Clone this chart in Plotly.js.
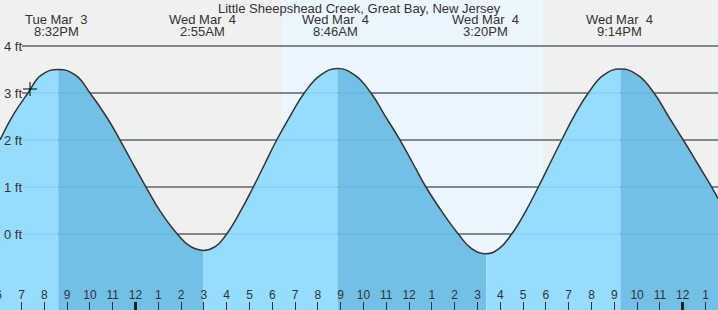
<!DOCTYPE html>
<html><head><meta charset="utf-8">
<script src="https://cdn.plot.ly/plotly-3.0.1.min.js"></script>
<style>html,body{margin:0;padding:0;background:#f0f0f0}#chart{width:718px;height:310px}</style>
</head><body><div id="chart"></div>
<script>
const stationTitle = "Little Sheepshead Creek, Great Bay, New Jersey";
// hours relative to midnight starting Wed Mar 4, tide height in ft
const tideHours = [-5.943, -5.342, -4.715, -4.136, -3.386, -2.632, -1.996, -1.280, -0.680, -0.118, 0.461, 1.088, 1.833, 2.390, 2.974, 3.496, 4.000, 4.601, 5.167, 5.680, 6.193, 6.807, 7.404, 8.114, 8.860, 9.618, 10.329, 10.925, 11.601, 12.171, 12.737, 13.434, 14.158, 14.741, 15.386, 15.947, 16.500, 17.110, 17.667, 18.180, 18.693, 19.259, 19.860, 20.526, 21.268, 22.031, 22.741, 23.377, 24.026, 24.649, 25.272, 25.548];
const tideFeet  = [2.00, 2.55, 3.00, 3.38, 3.50, 3.38, 3.00, 2.50, 2.00, 1.50, 1.00, 0.48, 0.00, -0.26, -0.35, -0.27, 0.00, 0.48, 1.00, 1.50, 2.00, 2.53, 3.00, 3.38, 3.52, 3.38, 3.00, 2.53, 2.00, 1.50, 1.00, 0.48, 0.00, -0.31, -0.42, -0.31, 0.00, 0.48, 1.00, 1.50, 2.00, 2.53, 3.00, 3.38, 3.51, 3.38, 3.00, 2.50, 2.00, 1.50, 1.00, 0.76];
const eventHours = [-3.467, 2.917, 8.767, 15.333, 21.233];
const eventDays = ["Tue Mar\u00a0 3", "Wed Mar\u00a0 4", "Wed Mar\u00a0 4", "Wed Mar\u00a0 4", "Wed Mar\u00a0 4"];
const eventTimes = ["8:32PM", "2:55AM", "8:46AM", "3:20PM", "9:14PM"];
const hourTicks = [-6,-5,-4,-3,-2,-1,0,1,2,3,4,5,6,7,8,9,10,11,12,13,14,15,16,17,18,19,20,21,22,23,24,25];
const hourLabels = ["6","7","8","9","10","11","12","1","2","3","4","5","6","7","8","9","10","11","12","1","2","3","4","5","6","7","8","9","10","11","12","1"];
const midnightTicks = [0, 24];
const footLevels = [0, 1, 2, 3, 4];
const footLabels = ["0 ft", "1 ft", "2 ft", "3 ft", "4 ft"];
const daylight = [6.425, 17.873];
const nowHour = [-4.627];
const nowFeet = [3.085];

const X_RANGE = [-5.943, 25.548];
const Y_RANGE = [-1.617, 4.979];
const LIGHT = "rgb(150,220,253)";
const DARK = "rgb(114,192,229)";
const NIGHT = "#f0f0f0";
const DAY = "#ecf6ff";
const FONT = "Liberation Sans, Arial, sans-serif";
const TXT = "#333";
const SMOOTH = 1.3;

// split into rising/falling segments at turning points
const turns = [0];
for (let i = 1; i < tideFeet.length - 1; i++) {
  if ((tideFeet[i] - tideFeet[i-1]) * (tideFeet[i+1] - tideFeet[i]) < 0) turns.push(i);
}
turns.push(tideFeet.length - 1);

const traces = [];
for (let s = 0; s < turns.length - 1; s++) {
  const a = turns[s], b = turns[s+1];
  const sx = tideHours.slice(a, b + 1), sy = tideFeet.slice(a, b + 1);
  const rising = sy[sy.length - 1] > sy[0];
  traces.push({x: [sx[0], sx[sx.length-1]], y: [Y_RANGE[0]-0.5, Y_RANGE[0]-0.5], mode: "lines",
    line: {width: 0}, hoverinfo: "skip", showlegend: false});
  traces.push({x: sx, y: sy, mode: "lines", line: {width: 0, shape: "spline", smoothing: SMOOTH, color: rising ? LIGHT : DARK},
    fill: "tonexty", fillcolor: rising ? LIGHT : DARK, hoverinfo: "skip", showlegend: false});
}
traces.push({x: tideHours, y: tideFeet, mode: "lines", line: {color: "#333", width: 1.5, shape: "spline", smoothing: SMOOTH},
  hoverinfo: "skip", showlegend: false});
traces.push({x: nowHour, y: nowFeet, mode: "markers",
  marker: {symbol: "cross-thin", size: 10, line: {color: "#000", width: 1}}, hoverinfo: "skip", showlegend: false});
traces.push({x: hourTicks, y: hourTicks.map(() => -1.309), mode: "text", text: hourLabels,
  textposition: "middle center", textfont: {family: FONT, size: 12, color: TXT}, cliponaxis: true,
  hoverinfo: "skip", showlegend: false});
traces.push({x: midnightTicks, y: [null, null], xaxis: "x2", mode: "markers", hoverinfo: "skip", showlegend: false});

const shapes = [];
shapes.push({type: "rect", xref: "x", yref: "paper", x0: daylight[0], x1: daylight[1], y0: 0, y1: 1,
  fillcolor: DAY, line: {width: 0}, layer: "below"});
footLevels.forEach(v => shapes.push({type: "line", xref: "paper", yref: "y", x0: 22/718, x1: 1, y0: v, y1: v,
  line: {color: "#222", width: 1}, layer: "below"}));
footLevels.forEach(v => shapes.push({type: "line", xref: "paper", yref: "y", x0: 22/718, x1: 1, y0: v, y1: v,
  line: {color: "rgba(40,110,170,0.16)", width: 1}, layer: "above"}));

const annotations = [];
footLevels.forEach((v, i) => annotations.push({xref: "paper", yref: "y", x: 0, y: v, xanchor: "left", yanchor: "middle",
  xshift: 2, text: footLabels[i], showarrow: false, font: {family: FONT, size: 13, color: TXT}}));
eventHours.forEach((h, i) => {
  annotations.push({xref: "x", yref: "paper", x: h, y: 1 - 20/310, xanchor: "center", yanchor: "middle",
    text: eventDays[i], showarrow: false, font: {family: FONT, size: 13, color: TXT}});
  annotations.push({xref: "x", yref: "paper", x: h, y: 1 - 31.5/310, xanchor: "center", yanchor: "middle",
    text: eventTimes[i], showarrow: false, font: {family: FONT, size: 13, color: TXT}});
});
annotations.push({xref: "paper", yref: "paper", x: 0.5, y: 1 - 8.5/310, xanchor: "center", yanchor: "middle",
  text: stationTitle, showarrow: false, font: {family: FONT, size: 13, color: TXT}});

const layout = {
  width: 718, height: 310, margin: {l: 0, r: 0, t: 0, b: 0},
  paper_bgcolor: NIGHT, plot_bgcolor: NIGHT, showlegend: false,
  xaxis: {range: X_RANGE, showgrid: false, zeroline: false, showline: false, ticks: "inside", ticklen: 8,
    tickwidth: 1, tickcolor: "#333", tickmode: "array", tickvals: hourTicks, showticklabels: false, fixedrange: true},
  xaxis2: {range: X_RANGE, overlaying: "x", anchor: "y", side: "bottom", showgrid: false, zeroline: false, showline: false,
    ticks: "inside", ticklen: 8, tickwidth: 3, tickcolor: "#222", tickmode: "array", tickvals: midnightTicks,
    showticklabels: false, fixedrange: true},
  yaxis: {range: Y_RANGE, showgrid: false, zeroline: false, showline: false, showticklabels: false, ticks: "", fixedrange: true},
  shapes: shapes, annotations: annotations
};
Plotly.newPlot("chart", traces, layout, {displayModeBar: false, staticPlot: true});
</script></body></html>
